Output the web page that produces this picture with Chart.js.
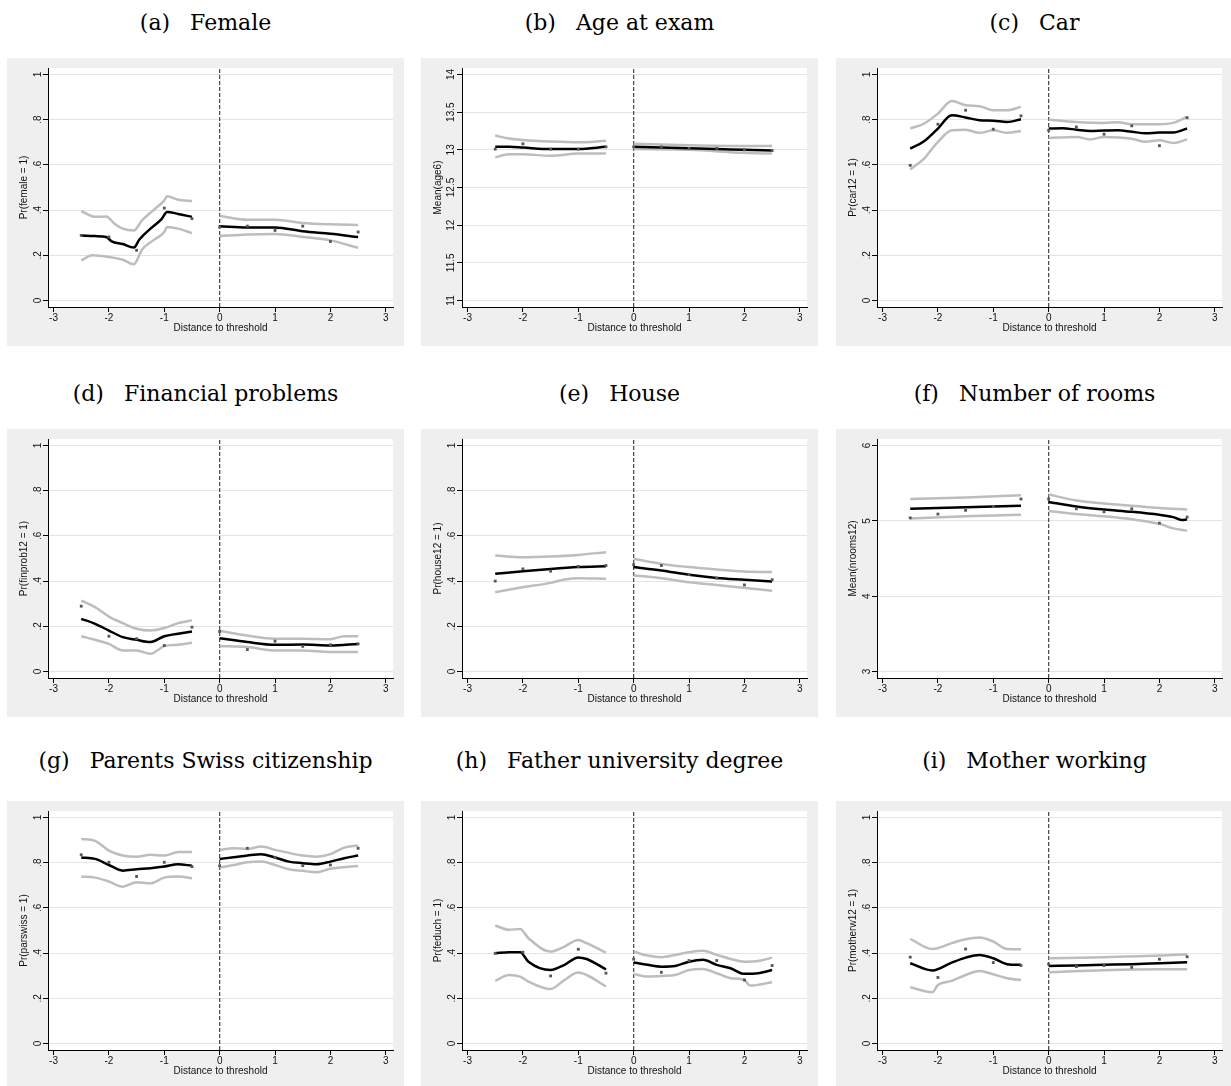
<!DOCTYPE html>
<html>
<head>
<meta charset="utf-8">
<script src="https://cdn.jsdelivr.net/npm/chart.js@4.4.1/dist/chart.umd.min.js"></script>
<style>
  body { margin: 0; background: #fff; width: 1231px; height: 1086px; overflow: hidden; position: relative; }
  .ttl { position: absolute; width: 397px; text-align: center; font-family: "DejaVu Serif", serif; font-size: 22px;
         color: #000; white-space: pre; line-height: 26px; }
  .ttl span { margin-right: 6px; }
  canvas { position: absolute; }
</style>
</head>
<body>
<script>
// bins of the scatter (same for every panel)
const binX = [-2.5, -2, -1.5, -1, -0.5, 0, 0.5, 1, 1.5, 2, 2.5];
const xTicks = [-3, -2, -1, 0, 1, 2, 3];
const probTicks = [0, 0.2, 0.4, 0.6, 0.8, 1];
const ageTicks = [11, 11.5, 12, 12.5, 13, 13.5, 14];
const roomTicks = [3, 4, 5, 6];

// (a) Female
const femalePts = [0.288, 0.281, 0.222, 0.409, 0.362, 0.325, 0.329, 0.31, 0.329, 0.261, 0.303];
const femaleFitL = [[-2.5, .288], [-2.25, .285], [-2.05, .281], [-1.95, .262], [-1.75, .25], [-1.55, .234], [-1.45, .27], [-1.25, .318], [-1.05, .36], [-0.95, .392], [-0.75, .383], [-0.5, .37]];
const femaleHiL = [[-2.5, .396], [-2.25, .37], [-2.05, .372], [-1.9, .34], [-1.75, .318], [-1.55, .31], [-1.4, .355], [-1.2, .399], [-1.0, .443], [-0.95, .461], [-0.75, .446], [-0.5, .44]];
const femaleLoL = [[-2.5, .177], [-2.3, .2], [-2.0, .192], [-1.75, .18], [-1.55, .16], [-1.4, .226], [-1.2, .266], [-1.0, .303], [-0.95, .325], [-0.75, .318], [-0.5, .298]];
const femaleFitR = [[0, .329], [0.5, .323], [1, .323], [1.5, .306], [2, .295], [2.5, .281]];
const femaleHiR = [[0, .374], [0.5, .357], [1, .357], [1.5, .343], [2, .337], [2.5, .334]];
const femaleLoR = [[0, .285], [0.5, .292], [1, .294], [1.5, .281], [2, .266], [2.5, .233]];

// (b) Age at exam
const agePts = [13.01, 13.08, 13.01, 13.01, 13.04, 13.04, 13.04, 13.02, 13.02, 13.0, 12.99];
const ageFitL = [[-2.5, 13.04], [-2.25, 13.04], [-2, 13.03], [-1.5, 13.01], [-1, 13.01], [-0.5, 13.04]];
const ageHiL = [[-2.5, 13.19], [-2.25, 13.15], [-2, 13.13], [-1.5, 13.11], [-1, 13.1], [-0.5, 13.12]];
const ageLoL = [[-2.5, 12.9], [-2.25, 12.94], [-2, 12.94], [-1.5, 12.92], [-1, 12.95], [-0.5, 12.95]];
const ageFitR = [[0, 13.04], [0.5, 13.03], [1, 13.02], [1.5, 13.01], [2, 13.0], [2.5, 12.99]];
const ageHiR = [[0, 13.08], [1, 13.06], [2, 13.05], [2.5, 13.05]];
const ageLoR = [[0, 13.01], [1, 13.0], [2, 12.96], [2.5, 12.95]];

// (c) Car
const carPts = [0.598, 0.78, 0.842, 0.758, 0.817, 0.753, 0.768, 0.736, 0.773, 0.685, 0.809];
const carFitL = [[-2.5, .672], [-2.25, .705], [-2, .761], [-1.75, .82], [-1.5, .81], [-1.25, .798], [-1, .796], [-0.75, .79], [-0.5, .802]];
const carHiL = [[-2.5, .761], [-2.25, .783], [-2, .827], [-1.75, .883], [-1.5, .864], [-1.25, .86], [-1, .842], [-0.75, .842], [-0.5, .857]];
const carLoL = [[-2.5, .58], [-2.25, .628], [-2, .702], [-1.75, .753], [-1.5, .756], [-1.25, .742], [-1, .753], [-0.75, .742], [-0.5, .75]];
const carFitR = [[0, .761], [0.25, .762], [0.5, .756], [0.75, .75], [1, .752], [1.25, .753], [1.5, .747], [1.75, .74], [2, .743], [2.25, .743], [2.5, .761]];
const carHiR = [[0, .8], [0.5, .79], [1, .786], [1.25, .789], [1.5, .78], [2, .78], [2.25, .786], [2.5, .812]];
const carLoR = [[0, .719], [0.5, .724], [0.75, .713], [1, .724], [1.5, .716], [1.75, .702], [2, .709], [2.25, .697], [2.5, .713]];

// (d) Financial problems
const finPts = [0.289, 0.156, 0.145, 0.115, 0.196, 0.177, 0.097, 0.134, 0.111, 0.118, 0.122];
const finFitL = [[-2.5, .233], [-2.25, .211], [-2, .181], [-1.75, .152], [-1.5, .14], [-1.25, .13], [-1, .156], [-0.75, .167], [-0.5, .177]];
const finHiL = [[-2.5, .314], [-2.25, .285], [-2, .243], [-1.75, .214], [-1.5, .189], [-1.25, .181], [-1, .192], [-0.75, .214], [-0.5, .226]];
const finLoL = [[-2.5, .156], [-2.25, .14], [-2, .122], [-1.75, .093], [-1.5, .093], [-1.25, .078], [-1, .112], [-0.75, .118], [-0.5, .127]];
const finFitR = [[0, .147], [0.5, .13], [1, .118], [1.5, .119], [2, .115], [2.5, .122]];
const finHiR = [[0, .18], [0.5, .159], [1, .145], [1.5, .145], [2, .143], [2.25, .156], [2.5, .156]];
const finLoR = [[0, .112], [0.5, .108], [1, .093], [1.5, .093], [2, .086], [2.5, .086]];

// (e) House
const housePts = [0.4, 0.454, 0.444, 0.465, 0.469, 0.472, 0.469, 0.429, 0.413, 0.383, 0.406];
const houseFitL = [[-2.5, .432], [-2, .444], [-1.5, .454], [-1, .462], [-0.5, .466]];
const houseHiL = [[-2.5, .513], [-2, .506], [-1.5, .509], [-1, .516], [-0.5, .528]];
const houseLoL = [[-2.5, .351], [-2, .373], [-1.5, .392], [-1.25, .407], [-1, .413], [-0.5, .41]];
const houseFitR = [[0, .462], [0.5, .447], [1, .428], [1.5, .414], [2, .406], [2.5, .398]];
const houseHiR = [[0, .499], [0.5, .476], [1, .462], [1.5, .451], [2, .442], [2.5, .44]];
const houseLoR = [[0, .425], [0.5, .413], [1, .395], [1.5, .383], [2, .37], [2.5, .357]];

// (f) Number of rooms
const roomsPts = [5.04, 5.09, 5.14, 5.19, 5.29, 5.29, 5.16, 5.12, 5.16, 4.97, 5.05];
const roomsFitL = [[-2.5, 5.16], [-1.5, 5.18], [-0.5, 5.2]];
const roomsHiL = [[-2.5, 5.29], [-1.5, 5.31], [-0.5, 5.34]];
const roomsLoL = [[-2.5, 5.03], [-1.5, 5.06], [-0.5, 5.08]];
const roomsFitR = [[0, 5.25], [0.5, 5.19], [1, 5.15], [1.5, 5.12], [2, 5.08], [2.25, 5.05], [2.4, 5.01], [2.5, 5.02]];
const roomsHiR = [[0, 5.35], [0.5, 5.27], [1, 5.23], [1.5, 5.2], [2, 5.17], [2.5, 5.15]];
const roomsLoR = [[0, 5.13], [0.5, 5.09], [1, 5.06], [1.5, 5.02], [2, 4.96], [2.25, 4.9], [2.5, 4.87]];

// (g) Parents Swiss citizenship
const swissPts = [0.835, 0.802, 0.739, 0.802, 0.783, 0.787, 0.864, 0.824, 0.787, 0.79, 0.864];
const swissFitL = [[-2.5, .823], [-2.25, .817], [-2, .79], [-1.75, .765], [-1.5, .771], [-1.25, .776], [-1, .783], [-0.75, .793], [-0.5, .787]];
const swissHiL = [[-2.5, .905], [-2.25, .897], [-2, .854], [-1.75, .832], [-1.5, .826], [-1.25, .835], [-1, .832], [-0.75, .847], [-0.5, .847]];
const swissLoL = [[-2.5, .739], [-2.25, .734], [-2, .717], [-1.75, .694], [-1.5, .714], [-1.25, .709], [-1, .734], [-0.75, .739], [-0.5, .731]];
const swissFitR = [[0, .817], [0.25, .824], [0.5, .832], [0.75, .838], [1, .823], [1.25, .805], [1.5, .798], [1.75, .793], [2, .805], [2.25, .82], [2.5, .832]];
const swissHiR = [[0, .857], [0.25, .864], [0.5, .861], [0.75, .872], [1, .857], [1.5, .832], [1.75, .827], [2, .838], [2.25, .867], [2.5, .876]];
const swissLoR = [[0, .779], [0.25, .79], [0.5, .802], [0.75, .805], [1, .79], [1.25, .771], [1.5, .764], [1.75, .758], [2, .773], [2.5, .786]];

// (h) Father university degree
const feducPts = [0.399, 0.404, 0.299, 0.417, 0.311, 0.373, 0.315, 0.367, 0.367, 0.281, 0.345];
const feducFitL = [[-2.5, .399], [-2.25, .404], [-2.05, .404], [-1.9, .362], [-1.5, .325], [-1.25, .348], [-1, .381], [-0.85, .374], [-0.5, .328]];
const feducHiL = [[-2.5, .522], [-2.25, .503], [-2.05, .507], [-1.9, .466], [-1.5, .407], [-1.25, .429], [-1, .458], [-0.85, .444], [-0.5, .402]];
const feducLoL = [[-2.5, .277], [-2.25, .303], [-2.05, .296], [-1.9, .274], [-1.5, .241], [-1.25, .281], [-1, .314], [-0.85, .303], [-0.5, .252]];
const feducFitR = [[0, .358], [0.25, .348], [0.5, .34], [0.75, .343], [1, .362], [1.25, .37], [1.5, .348], [1.75, .333], [2, .308], [2.25, .311], [2.5, .325]];
const feducHiR = [[0, .407], [0.25, .389], [0.5, .382], [0.75, .392], [1, .404], [1.25, .41], [1.5, .392], [1.75, .374], [2, .362], [2.25, .365], [2.5, .38]];
const feducLoR = [[0, .308], [0.25, .296], [0.5, .299], [0.75, .303], [1, .325], [1.25, .33], [1.5, .311], [1.75, .289], [2, .281], [2.1, .256], [2.5, .271]];

// (i) Mother working
const motherPts = [0.382, 0.292, 0.418, 0.358, 0.345, 0.351, 0.34, 0.345, 0.337, 0.373, 0.384];
const motherFitL = [[-2.5, .355], [-2.1, .323], [-1.75, .358], [-1.5, .38], [-1.25, .392], [-1, .377], [-0.75, .351], [-0.5, .348]];
const motherHiL = [[-2.5, .463], [-2.1, .418], [-1.75, .444], [-1.5, .461], [-1.25, .469], [-1, .451], [-0.75, .418], [-0.5, .417]];
const motherLoL = [[-2.5, .249], [-2.1, .227], [-2, .259], [-1.75, .277], [-1.5, .303], [-1.25, .321], [-1, .306], [-0.75, .289], [-0.5, .281]];
const motherFitR = [[0, .343], [0.5, .345], [1, .348], [1.5, .351], [2, .355], [2.5, .359]];
const motherHiR = [[0, .377], [1, .382], [2, .389], [2.5, .395]];
const motherLoR = [[0, .315], [1, .324], [2, .328], [2.5, .328]];

const fmtProb = v => v === 0 ? "0" : v === 1 ? "1" : "." + Math.round(v * 10);
const fmtNum = v => String(v);

const panels = [
  { tag: "(a)", title: "Female", yTitle: "Pr(female = 1)", ticks: probTicks, fmt: fmtProb, pad: 1,
    pts: femalePts, fitL: femaleFitL, hiL: femaleHiL, loL: femaleLoL, fitR: femaleFitR, hiR: femaleHiR, loR: femaleLoR },
  { tag: "(b)", title: "Age at exam", yTitle: "Mean(age6)", ticks: ageTicks, fmt: fmtNum, pad: -4,
    pts: agePts, fitL: ageFitL, hiL: ageHiL, loL: ageLoL, fitR: ageFitR, hiR: ageHiR, loR: ageLoR },
  { tag: "(c)", title: "Car", yTitle: "Pr(car12 = 1)", ticks: probTicks, fmt: fmtProb, pad: 1,
    pts: carPts, fitL: carFitL, hiL: carHiL, loL: carLoL, fitR: carFitR, hiR: carHiR, loR: carLoR },
  { tag: "(d)", title: "Financial problems", yTitle: "Pr(finprob12 = 1)", ticks: probTicks, fmt: fmtProb, pad: 1,
    pts: finPts, fitL: finFitL, hiL: finHiL, loL: finLoL, fitR: finFitR, hiR: finHiR, loR: finLoR },
  { tag: "(e)", title: "House", yTitle: "Pr(house12 = 1)", ticks: probTicks, fmt: fmtProb, pad: 1,
    pts: housePts, fitL: houseFitL, hiL: houseHiL, loL: houseLoL, fitR: houseFitR, hiR: houseHiR, loR: houseLoR },
  { tag: "(f)", title: "Number of rooms", yTitle: "Mean(nrooms12)", ticks: roomTicks, fmt: fmtNum, pad: 2,
    pts: roomsPts, fitL: roomsFitL, hiL: roomsHiL, loL: roomsLoL, fitR: roomsFitR, hiR: roomsHiR, loR: roomsLoR },
  { tag: "(g)", title: "Parents Swiss citizenship", yTitle: "Pr(parswiss = 1)", ticks: probTicks, fmt: fmtProb, pad: 1,
    pts: swissPts, fitL: swissFitL, hiL: swissHiL, loL: swissLoL, fitR: swissFitR, hiR: swissHiR, loR: swissLoR },
  { tag: "(h)", title: "Father university degree", yTitle: "Pr(feduch = 1)", ticks: probTicks, fmt: fmtProb, pad: 1,
    pts: feducPts, fitL: feducFitL, hiL: feducHiL, loL: feducLoL, fitR: feducFitR, hiR: feducHiR, loR: feducLoR },
  { tag: "(i)", title: "Mother working", yTitle: "Pr(motherw12 = 1)", ticks: probTicks, fmt: fmtProb, pad: 1,
    pts: motherPts, fitL: motherFitL, hiL: motherHiL, loL: motherLoL, fitR: motherFitR, hiR: motherHiR, loR: motherLoR }
];

const colX = [7, 421, 836];
const rowY = [58, 429, 801];
const titleY = [23, 394, 761];

// grey graph region, white plot region
const bgPlugin = {
  id: "bg",
  beforeDraw(chart) {
    const ctx = chart.ctx, a = chart.chartArea;
    ctx.save();
    ctx.fillStyle = "#efefef";
    ctx.fillRect(0, 0, chart.width, chart.height);
    ctx.fillStyle = "#fff";
    ctx.fillRect(a.left, a.top, a.right - a.left, a.bottom - a.top);
    ctx.restore();
  }
};

const axisFont = { family: "'Liberation Sans', Arial, sans-serif", size: 10 };

function curve(arr, color) {
  return {
    data: arr.map(d => ({ x: d[0], y: d[1] })),
    showLine: true, borderColor: color, borderWidth: 2.5, pointRadius: 0,
    cubicInterpolationMode: "monotone", fill: false
  };
}

panels.forEach((p, i) => {
  const gx = colX[i % 3], gy = rowY[Math.floor(i / 3)];
  const t = document.createElement("div");
  t.className = "ttl";
  const tag = document.createElement("span");
  tag.textContent = p.tag;
  t.appendChild(tag);
  t.appendChild(document.createTextNode("  " + p.title));
  t.style.left = gx + "px";
  t.style.top = (titleY[Math.floor(i / 3)] - 13) + "px";
  document.body.appendChild(t);

  const cv = document.createElement("canvas");
  cv.width = 397; cv.height = 288;
  cv.style.left = gx + "px"; cv.style.top = gy + "px";
  document.body.appendChild(cv);

  const lo = p.ticks[0], hi = p.ticks[p.ticks.length - 1];
  const span = hi - lo;
  const yMin = lo - span * 0.029, yMax = hi + span * 0.029;

  new Chart(cv, {
    type: "scatter",
    data: {
      datasets: [
        { data: binX.map((x, k) => ({ x: x, y: p.pts[k] })), pointStyle: "rect", pointRadius: 2,
          backgroundColor: "#575757", borderWidth: 0, showLine: false },
        curve(p.fitL, "#000"),
        curve(p.fitR, "#000"),
        curve(p.hiL, "#bdbdbd"),
        curve(p.loL, "#bdbdbd"),
        curve(p.hiR, "#bdbdbd"),
        curve(p.loR, "#bdbdbd"),
        { data: [{ x: 0, y: yMin }, { x: 0, y: yMax }], showLine: true, borderColor: "#444",
          borderWidth: 1.2, borderDash: [4, 2], pointRadius: 0 }
      ]
    },
    options: {
      responsive: false,
      animation: false,
      events: [],
      layout: { padding: { left: 0, top: 10, right: 11, bottom: 0 } },
      plugins: { legend: { display: false }, tooltip: { enabled: false } },
      scales: {
        x: {
          type: "linear", min: -3.1, max: 3.13,
          afterBuildTicks: s => { s.ticks = xTicks.map(v => ({ value: v })); },
          afterFit: s => { s.height = 39; },
          grid: { drawOnChartArea: false, tickColor: "#000", tickLength: 5 },
          border: { color: "#000", width: 1 },
          ticks: { color: "#111", font: axisFont, padding: 0, maxRotation: 0, autoSkip: false },
          title: { display: true, text: "Distance to threshold", color: "#111", font: axisFont,
                   padding: { top: 0, bottom: 12 } }
        },
        y: {
          type: "linear", min: yMin, max: yMax,
          afterBuildTicks: s => { s.ticks = p.ticks.map(v => ({ value: v })); },
          afterFit: s => { s.width = 41; },
          grid: { color: "#e4e4e4", lineWidth: 1, tickColor: "#000", tickLength: 5 },
          border: { color: "#000", width: 1 },
          ticks: { color: "#111", font: axisFont, minRotation: 90, maxRotation: 90, crossAlign: "center",
                   padding: p.pad, autoSkip: false, callback: v => p.fmt(v) },
          title: { display: true, text: p.yTitle, color: "#111", font: axisFont,
                   padding: { top: 11, bottom: 0 } }
        }
      }
    },
    plugins: [bgPlugin]
  });
});
</script>
</body>
</html>
